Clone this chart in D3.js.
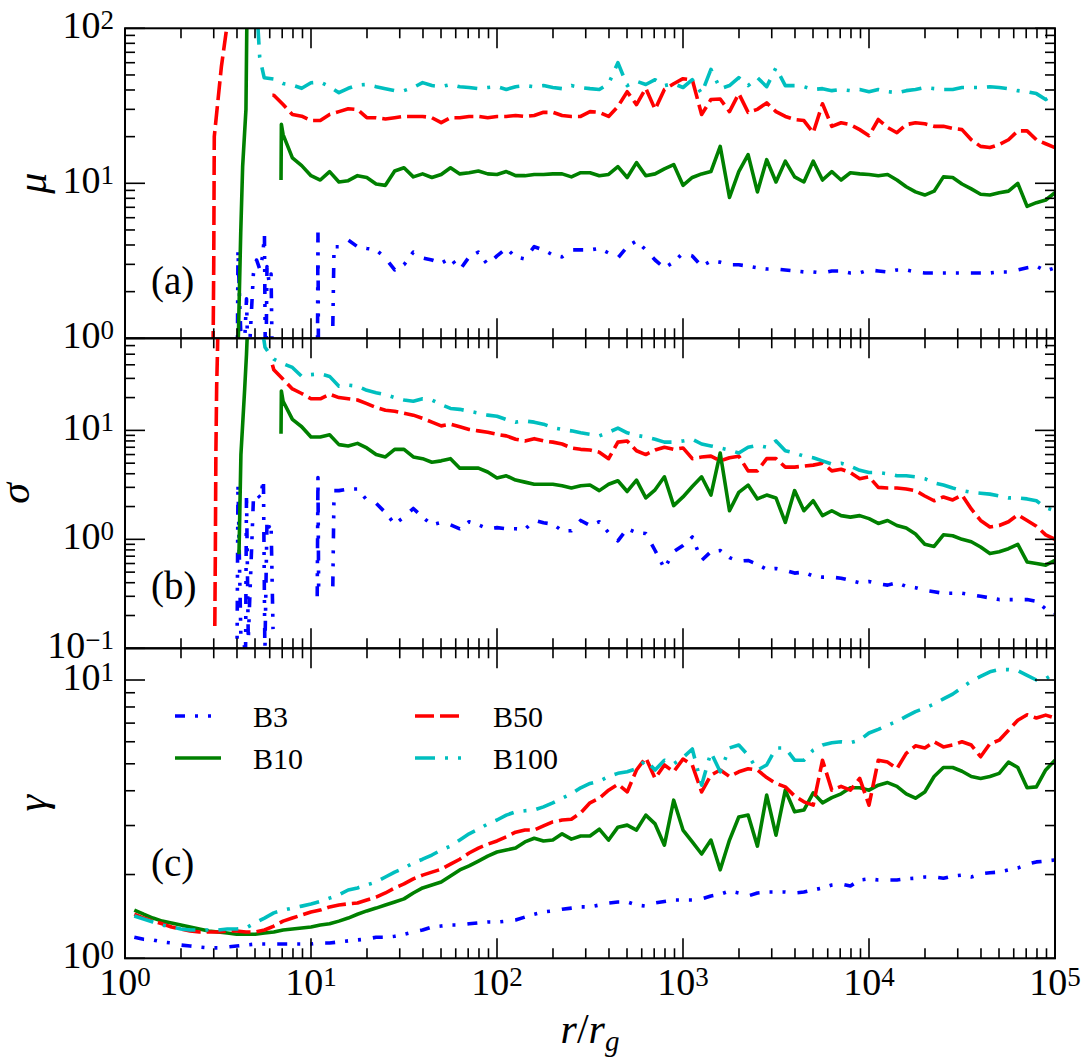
<!DOCTYPE html>
<html>
<head>
<meta charset="utf-8">
<script src="https://cdn.jsdelivr.net/npm/d3@7"></script>
<style>
body { margin: 0; background: #fff; }
svg text { font-family: "Liberation Serif", "Tinos", "Times New Roman", "DejaVu Serif", "Noto Serif", "FreeSerif", serif; fill: #000; }
</style>
</head>
<body>
<div id="chart"></div>
<script>

///////////////////////////////////////////////////////////////////////////
//////////////////////////////// Data /////////////////////////////////////
///////////////////////////////////////////////////////////////////////////

//Radius grid r/r_g (0.05 dex steps). The series below are aligned to the END of this grid
var rGrid = [1.122,1.259,1.413,1.585,1.778,1.995,2.239,2.512,2.818,3.162,3.548,3.981,4.467,5.012,5.623,6.310,7.079,7.943,8.913,10,
	11.22,12.59,14.13,15.85,17.78,19.95,22.39,25.12,28.18,31.62,35.48,39.81,44.67,50.12,56.23,63.10,70.79,79.43,89.13,100,
	112.2,125.9,141.3,158.5,177.8,199.5,223.9,251.2,281.8,316.2,354.8,398.1,446.7,501.2,562.3,631.0,707.9,794.3,891.3,1000,
	1122,1259,1413,1585,1778,1995,2239,2512,2818,3162,3548,3981,4467,5012,5623,6310,7079,7943,8913,10000,
	11220,12590,14130,15850,17780,19950,22390,25120,28180,31620,35480,39810,44670,50120,56230,63100,70790,79430,89130,100000];

var seriesNames = ["B3", "B10", "B50", "B100"];
var seriesColors = ["#0000ff", "#008000", "#ff0000", "#00bfbf"];
var seriesDash = ["10,10,3,10,3,12", null, "19,6", "20,10,3,10"];

//---- (a) mu ----
var muB3 = [3.9,4.3,3.9,
	3.8,3.72,3.3,2.76,2.98,3.6,3.3,3.2,3.05,3.3,
	2.76,3.35,3.6,2.98,3.4,3.8,3.35,3.25,3.9,3.72,
	3.45,3.35,3.72,3.72,3.72,3.8,3.55,3.3,3.9,4.25,
	3.72,3.2,2.85,3.1,3.55,3.4,2.92,3.15,3.1,2.98,
	2.98,2.92,2.85,2.8,2.8,2.76,2.72,2.68,2.68,2.64,
	2.72,2.72,2.64,2.64,2.76,2.72,2.68,2.76,2.76,2.68,
	2.64,2.64,2.64,2.64,2.64,2.64,2.64,2.64,2.68,2.68,
	2.76,2.85,2.92,2.72,2.85];
var muB10 = [20.6,14.6,13.0,11.2,10.5,11.9,10.2,10.4,11.2,
	10.9,9.9,9.7,12,12.6,11,11.5,10.9,11.4,12.6,
	11.5,11.7,12,11.5,11.4,11.9,11.2,11.2,11.4,11.4,
	11.5,11.5,11,11.7,11.7,11.2,11.4,12.8,10.9,13.6,
	11.2,11.5,12.4,13.2,9.7,10.9,11.5,11.9,17.3,8.1,
	11.9,15.3,8.8,14.2,10.2,13.9,11,10.2,13.9,10.5,
	11.9,10.5,11.7,11.5,11.4,11.2,11.4,10.5,9.5,8.8,
	8.4,8.9,11,10.9,9.9,9.2,8.5,8.4,8.7,8.9,
	10,7.1,7.5,7.8,8.7];
var muB50 = [37,32.2,27.8,27.1,25.4,25.4,27.8,29,30.3,29.9,
	26.5,26.5,26,26.5,27,27,27,26.5,24.6,26.5,
	26.5,27,27,26.5,27,27,27.4,27,27.4,28.7,
	28.7,27.4,27,27,29,28.7,27,31.3,39,32.2,
	41,30,40.3,43.9,47.3,46.5,27.8,34.7,35,29,
	37.9,28.7,30,33,29,27,25.8,25.4,21.2,32.6,
	23.3,24.6,23.9,22.2,20.3,25.8,22.9,21.2,23.9,24.6,
	24.2,23.3,23.3,22.6,22.2,19.1,17.3,17,17.8,19.1,
	21.8,21.8,19.1,18,17];
var muB100 = [47,44,43,41,44.5,45,42,38.4,41,43,
	43.4,42,40.8,39.6,39.6,41.5,44.6,42.7,42,43.4,
	42,41.5,40.8,41.5,42,40.3,42,42.7,42,42.7,
	41.5,40.8,42.7,41.5,40.8,40.3,43.9,60,42.7,45.5,
	43.4,46.6,42.7,43.9,41.5,46.6,37.9,54.3,40.8,42.7,
	48,42.7,48,42,55.7,42.7,42.7,42,40.3,40.8,
	39.6,40.3,39.6,40.3,39,40.3,39,38.4,39.6,40.3,
	41.5,40.8,40.3,40.3,41.5,41.5,41.5,42,41.5,40.8,
	39.6,39,37.9,34.7,37.9];

//inner-disc pieces, [r, value], null = gap
var muHeadB3 = [[4.0,0.3],[4.05,3.7],[4.15,1.5],[4.3,0.5],[4.5,1.8],[4.6,0.6],[4.9,2.6],[5.1,3.2],[5.3,2.8],[5.5,3.4],
	[5.62,4.7],[5.7,0.4],[5.8,2.9],[5.95,2.3],[6.1,2.6],[6.25,0.3],[7,null],[10.8,0.3],[10.9,5.0],[11.0,0.3],[12,null],[13.1,1.2],[13.3,3.9]];
var muHeadB10 = [[3.98,0.5],[4.07,1.05],[4.19,4.8],[4.29,12.8],[4.47,30],[4.52,110],[4.6,500],[5,null],[6.9,10.5],[6.93,24]];
var muHeadB50 = [[2.96,0.4],[3.0,3],[3.02,20],[3.3,57],[3.52,100],[3.62,300],[4,null],[6.2,37]];
var muHeadB100 = [[5.05,200],[5.19,100],[5.3,65],[5.6,48]];

//---- (b) sigma ----
var sigB3 = [2.8,2.9,2.9,
	2.3,2.14,1.76,1.38,1.6,1.92,1.6,1.36,1.43,1.36,
	1.25,1.45,1.36,1.25,1.28,1.25,1.25,1.23,1.5,1.42,
	1.38,1.2,1.2,1.49,1.34,1.45,1.15,0.97,1.25,1.15,
	1.13,0.79,0.54,0.77,0.88,1.05,0.64,0.77,0.79,0.68,
	0.63,0.64,0.59,0.53,0.54,0.52,0.49,0.5,0.46,0.45,
	0.45,0.44,0.42,0.4,0.41,0.39,0.38,0.4,0.37,0.36,
	0.34,0.33,0.32,0.32,0.32,0.31,0.3,0.29,0.28,0.28,
	0.28,0.28,0.27,0.23,0.21];
var sigB10 = [18.5,12.6,10.8,8.7,8.7,9.1,7.4,7.2,7.6,
	6.9,6.0,5.7,6.7,6.7,5.7,5.5,5.1,5.25,5.5,
	4.5,4.5,4.5,4.15,3.66,3.83,3.5,3.35,3.2,3.2,
	3.2,3.1,2.96,3.1,3.15,2.8,3.2,3.45,2.75,3.5,
	2.4,2.85,3.75,2.04,2.45,3.05,3.75,2.55,6.2,1.83,
	2.7,3.15,2.35,2.55,2.4,1.43,2.8,1.83,2.26,1.65,
	1.83,1.65,1.6,1.65,1.55,1.4,1.49,1.34,1.27,1.12,
	0.9,0.86,1.1,1.08,1.0,0.95,0.85,0.74,0.77,0.82,
	0.9,0.62,0.6,0.58,0.64];
var sigB50 = [36,29.5,24,21.8,19.5,19.5,21.5,20,19.5,19,
	17.6,16.2,15.3,15,14.4,13.8,12.9,11.9,11,11.4,
	10.8,10.2,9.9,9.6,9.2,8.9,8.3,8.0,8.4,8.0,
	7.8,7.5,6.9,6.7,6.6,6.3,5.5,7.8,8.0,6.5,
	6,6.6,7.0,6.7,6.9,5.5,5.7,5.8,5.25,5.6,
	5.8,4.25,4.25,5.5,5.5,4.6,4.6,4.7,4.8,5.0,
	4.25,4.4,4.1,3.6,3.75,3.0,2.96,2.96,2.9,2.8,
	2.5,2.26,2.45,2.3,2.55,1.9,1.49,1.3,1.34,1.45,
	1.68,1.49,1.32,1.1,1.0];
var sigB100 = [45,41,37.8,31.3,32.5,33,31.3,25.4,26,25.4,
	23.3,22.2,21.3,20,19,18.5,19.5,19,17.2,15.9,
	15.6,15,14.4,13.8,13.5,12.6,11.9,12.2,11.9,11.4,
	10.6,10.2,9.9,9.5,9.2,8.9,9.6,10.5,9.5,9.0,
	8.7,8.3,7.8,7.8,8.0,8.3,7.5,7.2,6.9,6.6,
	6.2,7.0,7.3,7.0,8.0,6.5,6.2,5.8,5.6,5.25,
	4.9,5.0,4.7,4.3,4.1,4.1,4.0,3.83,3.83,3.75,
	3.6,3.3,3.15,2.96,2.8,2.7,2.65,2.6,2.5,2.4,
	2.4,2.35,2.26,1.95,1.83];

var sigHeadB3 = [[4.0,0.08],[4.05,3.2],[4.2,0.12],[4.45,0.1],[4.5,2.6],[4.6,0.12],[4.9,2.3],[5.1,2.6],[5.35,2.4],[5.55,3.6],
	[5.65,0.09],[5.8,1.5],[5.95,1.3],[6.1,1.4],[6.25,0.15],[7,null],[10.8,0.3],[10.9,3.7],[11.0,0.3],[12,null],[13.1,0.37],[13.3,2.8]];
var sigHeadB10 = [[4.1,0.73],[4.2,6],[4.4,24],[4.5,50],[4.55,80],[4.62,300],[5,null],[6.9,9.3],[6.93,23]];
var sigHeadB50 = [[3.04,0.16],[3.06,0.75],[3.08,6],[3.11,25],[3.14,50],[3.2,300],[4,null],[6.2,40]];
var sigHeadB100 = [[5.5,80],[5.66,58],[6.0,50]];

//---- (c) gamma ----
var gamB3 = [1.19,1.17,1.164,1.145,1.135,1.116,1.107,1.098,1.09,1.09,
	1.098,1.107,1.116,1.125,1.125,1.125,1.125,1.125,1.125,1.125,
	1.135,1.135,1.145,1.155,1.164,1.173,1.19,1.19,1.2,1.22,
	1.243,1.264,1.296,1.306,1.317,1.317,1.33,1.34,1.35,1.35,
	1.36,1.373,1.407,1.44,1.467,1.48,1.5,1.515,1.53,1.53,
	1.554,1.58,1.594,1.594,1.554,1.54,1.58,1.6,1.62,1.62,
	1.62,1.635,1.675,1.7,1.745,1.717,1.675,1.717,1.73,1.73,
	1.73,1.717,1.73,1.76,1.79,1.834,1.85,1.82,1.911,1.93,
	1.911,1.911,1.911,1.93,1.94,1.96,1.96,1.94,1.975,1.99,
	1.96,2.01,2.03,2.04,2.077,2.11,2.18,2.22,2.236,2.255];
var gamB10 = [1.49,1.44,1.395,1.36,1.34,1.317,1.296,1.275,1.254,1.243,
	1.232,1.22,1.22,1.22,1.232,1.243,1.264,1.275,1.285,1.296,
	1.317,1.33,1.36,1.395,1.44,1.48,1.515,1.554,1.594,1.635,
	1.717,1.79,1.834,1.88,1.975,2.077,2.147,2.236,2.33,2.41,
	2.449,2.49,2.62,2.7,2.64,2.66,2.8,2.68,2.75,2.75,
	2.91,2.66,2.96,3.01,2.89,3.27,3.04,2.55,3.7,2.89,
	2.62,2.37,2.66,2.08,2.66,3.22,3.27,2.53,3.86,2.77,
	4.02,3.36,3.41,3.93,3.62,3.78,3.9,4.1,4.1,4.02,
	4.19,4.28,4.15,3.9,3.76,3.96,4.5,4.85,4.85,4.7,
	4.5,4.43,4.5,4.62,5.07,4.85,4.1,4.13,4.75,5.15];
var gamB50 = [1.44,1.395,1.36,1.33,1.296,1.275,1.254,1.243,1.243,1.243,
	1.254,1.254,1.243,1.243,1.264,1.306,1.36,1.395,1.431,1.467,
	1.49,1.53,1.554,1.57,1.58,1.62,1.66,1.717,1.79,1.85,
	1.93,1.99,2.04,2.09,2.18,2.27,2.39,2.49,2.57,2.64,
	2.73,2.84,2.89,2.89,2.99,3.09,3.14,3.16,3.33,3.62,
	3.76,4.02,4.22,3.96,4.75,5.26,4.43,4.95,4.68,5.2,
	4.95,3.96,4.55,4.75,4.5,4.68,4.8,4.75,4.46,4.25,
	4.13,3.83,3.65,3.55,5.15,4.02,4.15,4.02,4.43,3.55,
	5.15,5.07,4.8,5.45,5.8,5.7,6.0,5.75,5.84,6.0,
	5.84,5.3,5.9,6.08,6.6,7.17,7.5,7.3,7.48,7.3];
var gamB100 = [1.42,1.385,1.35,1.317,1.296,1.275,1.264,1.264,1.264,1.264,
	1.275,1.275,1.285,1.34,1.395,1.456,1.49,1.515,1.54,1.566,
	1.6,1.645,1.69,1.76,1.79,1.834,1.88,1.96,2.04,2.11,
	2.2,2.27,2.35,2.449,2.53,2.66,2.8,2.91,3.04,3.14,
	3.27,3.36,3.39,3.41,3.5,3.62,3.76,3.9,4.1,4.25,
	4.33,4.5,4.62,4.68,4.8,5.15,4.75,5.15,5.0,5.26,
	5.65,4.19,5.5,4.68,5.7,5.84,5.37,4.75,4.95,5.7,
	5.7,5.15,5.15,5.6,5.84,5.95,6.0,5.95,6.08,6.45,
	6.65,6.88,7.1,7.4,7.7,7.93,8.2,8.55,8.9,9.4,
	9.9,10.3,10.7,10.9,10.9,10.8,10.4,10,10.1,10.6];

var xDecades = [0, 1, 2, 3, 4, 5];

///////////////////////////////////////////////////////////////////////////
//////////////////// Set up and initiate svg container ////////////////////
///////////////////////////////////////////////////////////////////////////

var width = 1085,
	height = 1061;
var left = 125,
	right = 1055,
	top0 = 28.3,
	panelH = 310;

var svg = d3.select("#chart").append("svg")
	.attr("width", width)
	.attr("height", height)
	.style("font-family", "'Liberation Serif', Tinos, 'Times New Roman', 'DejaVu Serif', 'Noto Serif', serif");

var x = d3.scaleLog().domain([1, 1e5]).range([left, right]);

var panels = [
	{ id: "a", label: "\u03bc", labelX: 46, letterY: 294, domain: [1, 100],
		grids: [muB3, muB10, muB50, muB100], heads: [muHeadB3, muHeadB10, muHeadB50, muHeadB100] },
	{ id: "b", label: "\u03c3", labelX: 29, letterY: 599, domain: [0.1, 70],
		grids: [sigB3, sigB10, sigB50, sigB100], heads: [sigHeadB3, sigHeadB10, sigHeadB50, sigHeadB100] },
	{ id: "c", label: "\u03b3", labelX: 46, letterY: 876, domain: [1, 13],
		grids: [gamB3, gamB10, gamB50, gamB100], heads: [null, null, null, null] }
];

//Merge the inner pieces with the grid series, sorted along r
function buildPoints(grid, head) {
	var off = rGrid.length - grid.length;
	var pts = grid.map(function(v, i) { return [rGrid[off + i], v]; });
	if (head) pts = head.concat(pts);
	pts.sort(function(a, b) { return a[0] - b[0]; });
	return pts;
}

function logTicks(d0, d1) {
	var majors = [], minors = [];
	var e0 = Math.floor(Math.log10(d0) + 1e-9), e1 = Math.floor(Math.log10(d1) + 1e-9);
	for (var e = e0; e <= e1; e++) {
		var p = Math.pow(10, e);
		if (p >= d0 * 0.999 && p <= d1 * 1.001) majors.push(e);
		for (var m = 2; m < 10; m++) {
			var v = m * p;
			if (v > d0 * 1.001 && v < d1 * 0.999) minors.push(v);
		}
	}
	return { majors: majors, minors: minors };
}

//"10" with an exponent
function powLabel(sel, e) {
	sel.append("tspan").text("10");
	sel.append("tspan")
		.attr("dy", -9)
		.attr("font-size", 27)
		.text(e < 0 ? "\u2212" + (-e) : e);
}

var majLen = 20, minLen = 10;

panels.forEach(function(p, pi) {
	var top = top0 + pi * panelH,
		bottom = top + panelH;
	var y = d3.scaleLog().domain(p.domain).range([bottom, top]);
	var g = svg.append("g").attr("class", "panel-" + p.id);

	g.append("clipPath").attr("id", "clip-" + p.id)
		.append("rect")
		.attr("x", left).attr("y", top)
		.attr("width", right - left).attr("height", panelH);

	///////////////////////////// Lines //////////////////////////////////
	var line = d3.line()
		.defined(function(d) { return d[1] !== null; })
		.x(function(d) { return x(d[0]); })
		.y(function(d) { return y(d[1]); });

	var lineWrapper = g.append("g").attr("clip-path", "url(#clip-" + p.id + ")");
	p.grids.forEach(function(grid, si) {
		lineWrapper.append("path")
			.datum(buildPoints(grid, p.heads[si]))
			.attr("d", line)
			.style("fill", "none")
			.style("stroke", seriesColors[si])
			.style("stroke-width", 3.6)
			.style("stroke-linejoin", "round")
			.style("stroke-dasharray", seriesDash[si]);
	});

	///////////////////////////// Ticks //////////////////////////////////
	var ticks = g.append("g").style("stroke", "#000").style("stroke-width", 1.6);
	var yt = logTicks(p.domain[0], p.domain[1]);
	yt.majors.forEach(function(e) {
		var yy = y(Math.pow(10, e));
		ticks.append("line").attr("x1", left).attr("x2", left + majLen).attr("y1", yy).attr("y2", yy);
		ticks.append("line").attr("x1", right).attr("x2", right - majLen).attr("y1", yy).attr("y2", yy);
	});
	yt.minors.forEach(function(v) {
		var yy = y(v);
		ticks.append("line").attr("x1", left).attr("x2", left + minLen).attr("y1", yy).attr("y2", yy);
		ticks.append("line").attr("x1", right).attr("x2", right - minLen).attr("y1", yy).attr("y2", yy);
	});
	var xt = logTicks(1, 1e5);
	xt.majors.forEach(function(e) {
		var xx = x(Math.pow(10, e));
		ticks.append("line").attr("x1", xx).attr("x2", xx).attr("y1", top).attr("y2", top + majLen);
		ticks.append("line").attr("x1", xx).attr("x2", xx).attr("y1", bottom).attr("y2", bottom - majLen);
	});
	xt.minors.forEach(function(v) {
		var xx = x(v);
		ticks.append("line").attr("x1", xx).attr("x2", xx).attr("y1", top).attr("y2", top + minLen);
		ticks.append("line").attr("x1", xx).attr("x2", xx).attr("y1", bottom).attr("y2", bottom - minLen);
	});

	//Frame
	g.append("rect")
		.attr("x", left).attr("y", top)
		.attr("width", right - left).attr("height", panelH)
		.style("fill", "none")
		.style("stroke", "#000")
		.style("stroke-width", 2);

	//y tick labels
	yt.majors.forEach(function(e) {
		g.append("text")
			.attr("x", 114)
			.attr("y", y(Math.pow(10, e)) + 10)
			.attr("font-size", 38)
			.style("text-anchor", "end")
			.call(powLabel, e);
	});

	//y axis title
	g.append("text")
		.attr("transform", "translate(" + p.labelX + "," + (top + panelH / 2) + ") rotate(-90)")
		.attr("font-size", 42)
		.style("font-style", "italic")
		.style("text-anchor", "middle")
		.text(p.label);

	//Panel letter
	g.append("text")
		.attr("x", 151)
		.attr("y", p.letterY)
		.attr("font-size", 39)
		.text("(" + p.id + ")");

	//x tick labels only under the last panel
	if (pi === panels.length - 1) {
		xDecades.forEach(function(e) {
			g.append("text")
				.attr("x", x(Math.pow(10, e)))
				.attr("y", bottom + 37)
				.attr("font-size", 38)
				.style("text-anchor", "middle")
				.call(powLabel, e);
		});
	}
});

//x axis title r/r_g
var xTitle = svg.append("text")
	.attr("x", 590)
	.attr("y", 1043)
	.attr("font-size", 42)
	.style("text-anchor", "middle");
xTitle.append("tspan").style("font-style", "italic").text("r");
xTitle.append("tspan").text("/");
xTitle.append("tspan").style("font-style", "italic").text("r");
xTitle.append("tspan").style("font-style", "italic").attr("font-size", 29).attr("dy", 8).text("g");

///////////////////////////////////////////////////////////////////////////
//////////////////////////////// Legend ///////////////////////////////////
///////////////////////////////////////////////////////////////////////////

var legendPos = [[175, 716], [175, 758], [415, 716], [415, 758]];
var legend = svg.append("g").attr("class", "legend");
seriesNames.forEach(function(name, i) {
	var lp = legendPos[i];
	legend.append("line")
		.attr("x1", lp[0]).attr("x2", lp[0] + 46)
		.attr("y1", lp[1]).attr("y2", lp[1])
		.style("stroke", seriesColors[i])
		.style("stroke-width", 3.6)
		.style("stroke-dasharray", seriesDash[i]);
	legend.append("text")
		.attr("x", lp[0] + 78)
		.attr("y", lp[1] + 11)
		.attr("font-size", 30)
		.text(name);
});

</script>
</body>
</html>
